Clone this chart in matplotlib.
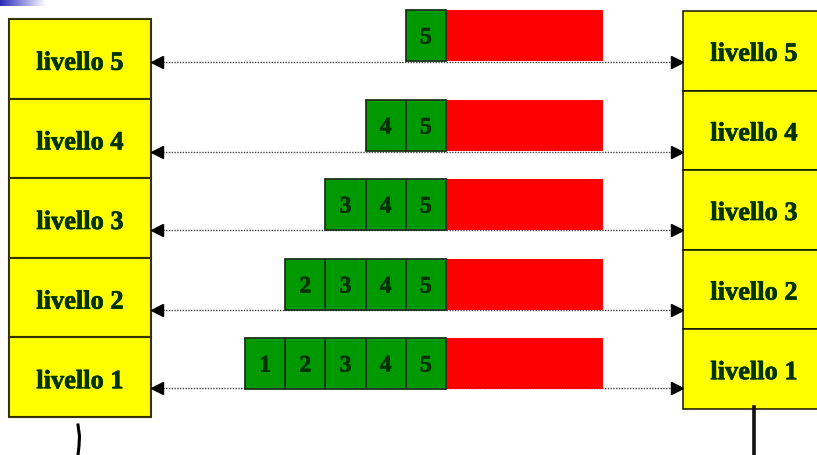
import numpy as np
import matplotlib
matplotlib.use("Agg")
import matplotlib.pyplot as plt
from matplotlib.patches import Rectangle
from matplotlib import patheffects as pe

# data
levels = [1, 2, 3, 4, 5]
level_labels = ["livello %d" % n for n in levels]
header_labels = ["1", "2", "3", "4", "5"]

# layout (pixels)
W, H = 817, 455
row_h = 79.6
left_x, left_w, left_top = 9, 142, 19
right_x, right_w, right_top = 683, 140, 11
hdr_w = 40.2
red_x0, red_x1 = 446, 603
pkt_h = 51
arrow_y = {5: 62, 4: 152, 3: 230, 2: 310, 1: 388}
pkt_top = {5: 10, 4: 100, 3: 179, 2: 259, 1: 338}

yellow = "#FFFF00"
green = "#009900"
dark = "#003300"
font = "Liberation Serif"
# a touch heavier than the plain bold face
heavier = [pe.withStroke(linewidth=0.5, foreground=dark)]

fig = plt.figure(figsize=(W / 100, H / 100), dpi=100)
ax = fig.add_axes([0, 0, 1, 1])
ax.set_xlim(0, W)
ax.set_ylim(H, 0)
ax.axis("off")

# little slide-corner gradient
grad = np.linspace(0, 1, 64).reshape(1, -1)
ax.imshow(grad, extent=[0, 46, 6, 0], cmap=matplotlib.colors.LinearSegmentedColormap.from_list(
    "g", ["#2a2ab8", "#ffffff"]), aspect="auto", zorder=1)

# stacks of levels on both sides
for i, n in enumerate(reversed(levels)):
    yl = left_top + i * row_h
    ax.add_patch(Rectangle((left_x, yl), left_w, row_h, facecolor=yellow,
                           edgecolor="#333300", lw=1.5, zorder=2))
    ax.text(left_x + left_w / 2, yl + row_h / 2 + 4.5, level_labels[n - 1], ha="center",
            va="center", family=font, fontweight="bold", fontsize=19, color=dark,
            path_effects=heavier, zorder=3)
    yr = right_top + i * row_h
    ax.add_patch(Rectangle((right_x, yr), right_w, row_h, facecolor=yellow,
                           edgecolor="#111100", lw=1.1, zorder=2))
    ax.text(right_x + 71, yr + row_h / 2 + 3.5, level_labels[n - 1], ha="center",
            va="center", family=font, fontweight="bold", fontsize=19, color=dark,
            path_effects=heavier, zorder=3)

# peer-to-peer dotted arrows
ax_l, ax_r = left_x + left_w + 1, right_x - 1
for n in levels:
    y = arrow_y[n]
    ax.plot([ax_l + 8, ax_r - 8], [y, y], ls=(0, (1, 1)), lw=1, color="#444444", zorder=2)
    ax.plot([ax_l + 5], [y], marker="<", ms=8, color="black", zorder=3)
    ax.plot([ax_r - 5], [y], marker=">", ms=8, color="black", zorder=3)

# packets: headers + data
for n in levels:
    top = pkt_top[n]
    ax.add_patch(Rectangle((red_x0, top), red_x1 - red_x0, pkt_h, facecolor="#FF0000",
                           edgecolor="none", zorder=2))
    for k, lab in enumerate(header_labels[n - 1:][::-1]):
        x0 = red_x0 - (k + 1) * hdr_w
        ax.add_patch(Rectangle((x0, top), hdr_w, pkt_h, facecolor=green,
                               edgecolor="#1a331a", lw=1.3, zorder=3))
        ax.text(x0 + hdr_w / 2, top + pkt_h / 2 + 2.5, lab, ha="center", va="center",
                family=font, fontweight="bold", fontsize=17, color=dark,
                path_effects=heavier, zorder=4)

# lines to the physical medium
ax.plot([78, 79.5, 79, 78], [425, 436, 446, 455], color="black", lw=2.2, zorder=2)
ax.plot([754, 754], [407, 455], color="#111111", lw=2.6, zorder=2)

fig.savefig("out.png", dpi=100)
